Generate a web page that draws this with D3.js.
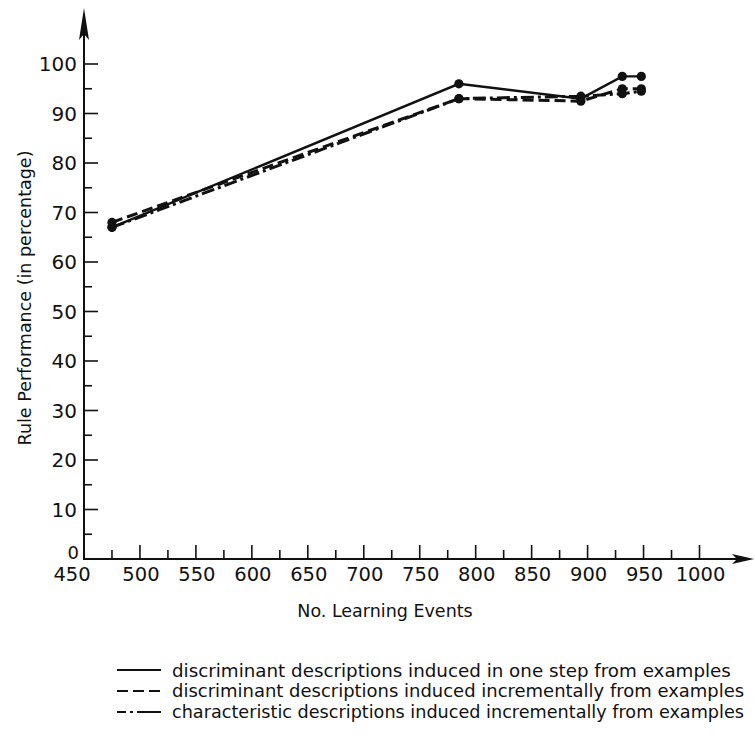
<!DOCTYPE html>
<html>
<head>
<meta charset="utf-8">
<script src="https://cdn.jsdelivr.net/npm/d3@7"></script>
<style>
  html, body { margin: 0; padding: 0; background: #fff; overflow: hidden; }
  svg { display: block; }
  text { font-family: "DejaVu Sans", sans-serif; fill: #111; }
</style>
</head>
<body>
<svg id="chart" width="755" height="744"></svg>
<script>
// Number of learning events at which rule performance was measured
const events = [475, 785, 894, 931, 948];

// Rule performance (%) for each induction method
const oneStepDiscriminant = [67, 96, 93, 97.5, 97.5];
const incrementalDiscriminant = [68, 93, 92.5, 95, 95];
const incrementalCharacteristic = [67, 93, 93.5, 94, 94.5];

const seriesNames = [
  "discriminant descriptions induced in one step from examples",
  "discriminant descriptions induced incrementally from examples",
  "characteristic descriptions induced incrementally from examples"
];

const xMajorTicks = [450, 500, 550, 600, 650, 700, 750, 800, 850, 900, 950, 1000];
const xMinorTicks = [475, 525, 575, 625, 675, 725, 775, 825, 875, 925, 975];
const yMajorTicks = [0, 10, 20, 30, 40, 50, 60, 70, 80, 90, 100];
const yMinorTicks = [5, 15, 25, 35, 45, 55, 65, 75, 85, 95];

const svg = d3.select("#chart");
const ink = "#111";

const x = d3.scaleLinear().domain([450, 1000]).range([84, 699.5]);
const y = d3.scaleLinear().domain([0, 100]).range([559, 64]);

const x0 = x(450), y0 = y(0);
const axisTop = 8, axisRight = 754;

// Axis lines with arrowheads
const axes = svg.append("g").attr("stroke", ink).attr("fill", "none");
axes.append("line").attr("x1", x0).attr("y1", y0 + 1).attr("x2", x0).attr("y2", axisTop + 10).attr("stroke-width", 2);
axes.append("line").attr("x1", x0 - 1).attr("y1", y0).attr("x2", axisRight - 10).attr("y2", y0).attr("stroke-width", 2);
svg.append("path")
  .attr("d", `M${x0},${axisTop} L${x0 + 5},${axisTop + 32} L${x0},${axisTop + 26} L${x0 - 5},${axisTop + 32} Z`)
  .attr("fill", ink);
svg.append("path")
  .attr("d", `M${axisRight},${y0} L${axisRight - 22},${y0 - 5} L${axisRight - 17},${y0} L${axisRight - 22},${y0 + 5} Z`)
  .attr("fill", ink);

// Y axis ticks (pointing inward) and labels
const yAxisG = svg.append("g").attr("stroke", ink).attr("stroke-width", 1.6);
yAxisG.selectAll("line.maj").data(yMajorTicks.filter(d => d > 0)).join("line")
  .attr("x1", x0).attr("x2", x0 + 14).attr("y1", d => y(d)).attr("y2", d => y(d));
yAxisG.selectAll("line.min").data(yMinorTicks).join("line")
  .attr("x1", x0).attr("x2", x0 + 8).attr("y1", d => y(d)).attr("y2", d => y(d));
svg.append("g").selectAll("text").data(yMajorTicks).join("text")
  .attr("x", d => d === 0 ? x0 - 5 : x0 - 7)
  .attr("y", d => d === 0 ? y(d) - 6 : y(d)).attr("dy", "0.36em")
  .attr("text-anchor", "end").attr("font-size", d => d === 0 ? 18 : 20)
  .text(d => d);

// X axis ticks (pointing inward) and labels
const xAxisG = svg.append("g").attr("stroke", ink).attr("stroke-width", 1.6);
xAxisG.selectAll("line.maj").data(xMajorTicks.filter(d => d > 450)).join("line")
  .attr("x1", d => x(d)).attr("x2", d => x(d)).attr("y1", y0).attr("y2", y0 - 14);
xAxisG.selectAll("line.min").data(xMinorTicks).join("line")
  .attr("x1", d => x(d)).attr("x2", d => x(d)).attr("y1", y0).attr("y2", y0 - 9);
svg.append("g").selectAll("text").data(xMajorTicks).join("text")
  .attr("x", d => x(d) + (d === 450 ? -12 : 1)).attr("y", y0 + 22).attr("text-anchor", "middle").attr("font-size", 19.5)
  .text(d => d);

// Axis titles
svg.append("text")
  .attr("x", 385).attr("y", 617).attr("text-anchor", "middle").attr("font-size", 17.5)
  .text("No. Learning Events");
svg.append("text")
  .attr("transform", "translate(31,298) rotate(-90)")
  .attr("text-anchor", "middle").attr("font-size", 17.5)
  .text("Rule Performance (in percentage)");

// Data series
const dashes = [null, "11,5", "13,4,3,4"];
const seriesValues = [oneStepDiscriminant, incrementalDiscriminant, incrementalCharacteristic];
const line = d3.line().x(d => x(d[0])).y(d => y(d[1]));

seriesValues.forEach((vals, i) => {
  const pts = events.map((e, j) => [e, vals[j]]);
  svg.append("path")
    .datum(pts)
    .attr("d", line)
    .attr("fill", "none")
    .attr("stroke", ink)
    .attr("stroke-width", i === 0 ? 2.4 : 3)
    .attr("stroke-dasharray", dashes[i]);
  svg.append("g").selectAll("circle").data(pts).join("circle")
    .attr("cx", d => x(d[0])).attr("cy", d => y(d[1])).attr("r", 4.6)
    .attr("fill", ink);
});

// Legend; long entries get a smaller font so they stay inside the page
const legend = svg.append("g");
const legendTextX = 172, legendMaxWidth = 572, legendFont = 18.3;
seriesNames.forEach((name, i) => {
  const ly = 670 + i * 21;
  legend.append("line")
    .attr("x1", 117).attr("x2", 161).attr("y1", ly).attr("y2", ly)
    .attr("stroke", ink).attr("stroke-width", 2)
    .attr("stroke-dasharray", i === 0 ? null : (i === 1 ? "11,5" : "9,4,3,4,30"));
  const t = legend.append("text")
    .attr("x", legendTextX).attr("y", ly).attr("dy", "0.36em").attr("font-size", legendFont)
    .text(name);
  const w = t.node().getComputedTextLength();
  if (w > legendMaxWidth) {
    t.attr("font-size", (legendFont * legendMaxWidth / w).toFixed(2));
  }
});
</script>
</body>
</html>
